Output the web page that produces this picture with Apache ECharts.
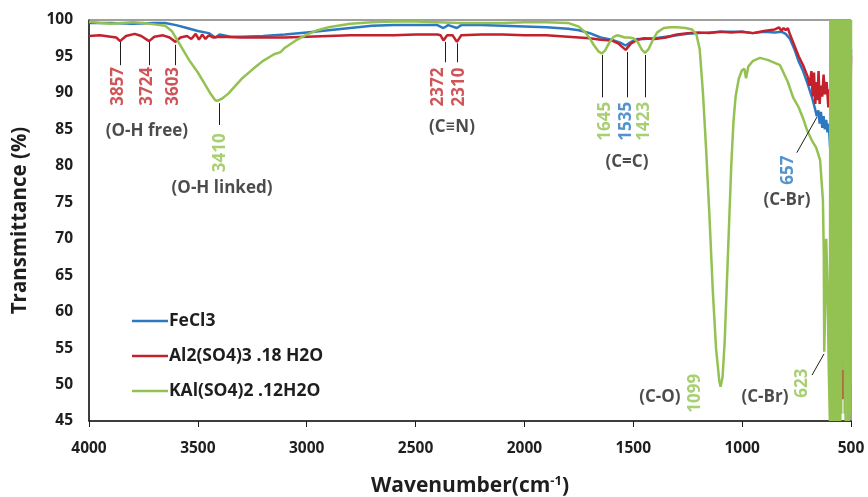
<!DOCTYPE html>
<html>
<head>
<meta charset="utf-8">
<script src="https://cdn.jsdelivr.net/npm/echarts@6/dist/echarts.min.js"></script>
<style>
html,body{margin:0;padding:0;background:#fff;}
#chart{width:868px;height:497px;}
</style>
</head>
<body>
<div id="chart"></div>
<script>
// ---- Data (wavenumber cm-1, transmittance %) ----
const seriesNames = ['FeCl3', 'Al2(SO4)3 .18 H2O', 'KAl(SO4)2 .12H2O'];

const feCl3Data = [
  [4000,99.6],[3900,99.6],[3800,99.5],[3700,99.6],[3650,99.6],[3600,99.3],[3550,98.9],[3500,98.5],
  [3450,98.2],[3420,97.6],[3400,98.0],[3350,97.7],[3300,97.7],[3200,97.8],[3100,98.0],[3000,98.3],
  [2900,98.6],[2800,98.9],[2700,99.2],[2600,99.3],[2500,99.3],[2400,99.3],[2372,98.9],[2350,99.3],
  [2310,98.9],[2290,99.3],[2200,99.3],[2100,99.2],[2000,99.1],[1900,99.0],[1800,98.8],[1750,98.6],
  [1700,98.2],[1650,97.6],[1600,97.3],[1560,96.9],[1535,96.5],[1510,97.0],[1480,97.4],[1450,97.4],
  [1400,97.5],[1350,97.7],[1300,97.9],[1250,98.1],[1200,98.2],[1100,98.4],[1000,98.4],[950,98.2],
  [900,98.4],[850,98.3],[820,98.4],[800,98.1],[780,97.4],[760,96.0],[740,94.3],[720,93.0],
  [700,91.3],[680,89.5],[665,87.8],[657,86.8],[650,87.6],[644,85.8],[638,87.4],[632,85.2],
  [626,86.8],[620,85.0],[614,86.3],[608,84.6],[602,85.8],[596,82.5],[592,88.0],[589,60.0],
  [586,93.0],[583,55.0],[580,97.0],[577,70.0],[574,99.0],[570,62.0],[566,98.0],[562,75.0],
  [558,99.0],[554,58.0],[550,97.0],[545,80.0],[540,99.5],[535,66.0],[530,98.0],[525,72.0],
  [520,99.0],[515,64.0],[510,97.0],[505,85.0],[500,96.0]
];

const al2Data = [
  [4000,97.8],[3950,97.9],[3900,97.7],[3875,97.6],[3857,97.1],[3830,97.8],[3790,98.1],[3760,97.8],
  [3724,97.1],[3700,97.7],[3660,97.9],[3630,97.6],[3603,97.0],[3580,97.6],[3550,97.8],[3530,97.4],
  [3510,98.1],[3495,97.3],[3480,98.0],[3465,97.4],[3450,97.9],[3430,97.6],[3400,97.7],[3300,97.6],
  [3200,97.6],[3100,97.6],[3000,97.7],[2900,97.8],[2800,97.9],[2700,97.9],[2600,97.9],[2500,98.0],
  [2400,98.0],[2385,97.9],[2372,97.2],[2355,97.9],[2330,97.9],[2310,97.0],[2290,97.9],[2200,98.0],
  [2100,98.0],[2000,97.9],[1900,97.9],[1800,97.7],[1700,97.5],[1650,97.3],[1600,97.2],[1570,96.8],
  [1535,95.9],[1510,96.8],[1480,97.3],[1450,97.5],[1400,97.4],[1350,97.6],[1300,98.0],[1250,98.2],
  [1200,98.3],[1150,98.2],[1100,98.4],[1050,98.3],[1000,98.4],[950,98.2],[900,98.5],[850,98.7],
  [830,99.0],[820,98.5],[810,98.9],[800,98.6],[790,98.9],[780,98.0],[760,96.5],[740,95.0],
  [720,93.8],[700,92.3],[690,91.0],[682,93.0],[676,89.5],[670,92.8],[664,88.5],[659,91.5],
  [654,89.0],[649,93.0],[644,88.5],[639,91.0],[632,89.5],[626,92.5],[620,89.8],[612,91.5],
  [604,88.0],[598,90.5],[592,86.0],[588,92.0],[584,75.0],[580,95.0],[575,68.0],[570,98.0],
  [565,80.0],[560,99.0],[555,70.0],[550,98.0],[545,62.0],[540,99.0],[537,48.0],[533,99.5],
  [528,60.0],[524,99.0],[519,52.0],[515,99.5],[511,70.0],[506,99.0],[502,90.0],[500,95.0]
];

const kalData = [
  [4000,99.8],[3950,99.6],[3900,99.5],[3850,99.6],[3800,99.7],[3750,99.6],[3700,99.4],[3650,99.2],
  [3620,98.5],[3600,97.5],[3570,96.0],[3540,94.5],[3500,92.8],[3470,91.3],[3440,89.8],[3420,89.0],
  [3410,88.9],[3390,89.2],[3360,89.9],[3330,90.9],[3300,91.9],[3250,93.2],[3200,94.4],[3150,95.3],
  [3120,95.6],[3100,96.2],[3050,97.2],[3000,98.0],[2950,98.6],[2900,99.0],[2800,99.5],[2700,99.7],
  [2600,99.8],[2500,99.8],[2400,99.7],[2300,99.6],[2200,99.6],[2100,99.6],[2000,99.7],[1900,99.7],
  [1800,99.6],[1750,99.1],[1720,98.3],[1700,97.5],[1680,96.5],[1660,95.7],[1645,95.4],[1630,95.8],
  [1610,96.9],[1590,97.7],[1575,97.9],[1560,97.8],[1540,97.6],[1520,97.6],[1500,97.5],[1480,97.0],
  [1460,95.9],[1446,95.5],[1430,96.0],[1410,97.3],[1390,98.3],[1360,98.9],[1330,99.0],[1300,99.0],
  [1260,98.9],[1230,98.7],[1210,98.0],[1195,96.0],[1180,90.0],[1165,82.0],[1150,73.0],[1135,63.0],
  [1120,55.0],[1105,50.5],[1099,49.7],[1090,51.0],[1080,56.0],[1070,64.0],[1060,72.0],[1050,80.0],
  [1040,86.0],[1030,89.5],[1015,92.0],[1001,93.1],[990,93.3],[982,92.0],[972,93.6],[950,94.4],
  [918,94.8],[880,94.5],[826,93.8],[790,91.5],[766,89.4],[740,88.0],[720,86.5],[702,84.9],
  [680,83.5],[660,82.5],[642,80.8],[629,75.3],[625,68.0],[623,54.5],[619,60.0],[614,70.0],
  [608,64.0],[602,52.0],[597,45.0],[595,100],[593,45.0],[591,100],[589,45.0],[587,100],
  [585,45.0],[583,100],[581,45.0],[579,100],[577,45.0],[575,100],[573,45.0],[571,100],
  [569,45.0],[567,100],[565,45.0],[563,100],[561,45.0],[559,100],[557,45.0],[555,100],
  [553,45.0],[551,100],[549,45.0],[547,100],[545,46.0],[543,100],[541,55.0],[539,100],
  [537,70.0],[535,100],[533,52.0],[531,100],[529,46.0],[527,100],[525,45.0],[523,100],
  [521,72.0],[519,100],[517,60.0],[515,100],[513,45.0],[511,100],[509,45.0],[507,100],
  [505,46.0],[503,100],[501,50.0],[500,100]
];

const xTicks = [4000, 3500, 3000, 2500, 2000, 1500, 1000, 500];
const yTicks = [45, 50, 55, 60, 65, 70, 75, 80, 85, 90, 95, 100];

// peak number labels
const peakText   = ['3857','3724','3603','3410','2372','2310','1645','1535','1423','657','1099','623'];
const peakWn     = [3866, 3733, 3612, 3397, 2397, 2300, 1627, 1534, 1451, 789, 1217, 725];
const peakT      = [90.9, 90.9, 90.9, 81.8, 90.8, 90.8, 86.1, 86.1, 86.1, 79.4, 48.8, 50.2];
const peakColour = ['r','r','r','g','r','r','g','b','g','b','g','g'];

// group labels
const groupText = ['(O-H free)','(O-H linked)','(C\u2261N)','(C=C)','(C-Br)','(C-O)','(C-Br)'];
const groupWn   = [3734, 3389, 2333, 1529, 794, 1378, 895];
const groupT    = [84.8, 77.0, 85.3, 80.5, 75.3, 48.3, 48.3];

// connector segments [wn1, T1, wn2, T2]
const connectors = [
  [3857,97.0,3857,93.8],[3724,97.0,3724,93.8],[3603,96.6,3603,93.8],
  [3401,88.6,3401,85.6],
  [2365,97.0,2365,94.2],[2310,96.8,2310,94.2],
  [1644,95.2,1644,89.4],[1529,95.6,1529,89.4],[1446,95.2,1446,89.4],
  [749,81.8,656,86.7],[679,51.3,624,54.2]
];

// ---- Styling ----
const COL = { b:'#2c79c1', r:'#c3212c', g:'#93c152' };
const LBL = { b:'#2a78c2', r:'#c32a30', g:'#93c353' };
const FONT = '"Open Sans", Lato, sans-serif';
const INK = '#1e1e1e';

const chart = echarts.init(document.getElementById('chart'), null, {renderer:'canvas'});

function lineSeries(name, data, colour, extra) {
  return Object.assign({
    name, type:'line', data, showSymbol:false, symbol:'none',
    lineStyle:{width:2.5, color:colour}, itemStyle:{color:colour},
    clip:true, silent:true, z:2
  }, extra || {});
}

const option = {
  animation:false,
  backgroundColor:'#ffffff',
  grid:{left:89, right:17, top:20, bottom:76, containLabel:false, outerBoundsMode:'none',
        show:true, borderColor:'#404040', borderWidth:1, backgroundColor:'transparent'},
  legend:{
    data:seriesNames, orient:'vertical', left:127, top:307,
    itemWidth:36, itemHeight:14, itemGap:17,
    icon:'path://M0,6 L36,6 L36,8.6 L0,8.6 Z',
    textStyle:{fontFamily:FONT, fontWeight:'bold', fontSize:17.5, color:INK, padding:[0,0,0,-4]}
  },
  xAxis:{
    type:'value', inverse:true, min:500, max:4000, interval:500,
    axisLine:{show:true, lineStyle:{color:INK, width:1.5}},
    axisTick:{show:true, inside:false, length:6, lineStyle:{color:INK}},
    axisLabel:{fontFamily:FONT, fontWeight:'bold', fontSize:15.5, color:INK, margin:20,
      formatter:v => xTicks.includes(v) ? String(v) : ''},
    splitLine:{show:false},
    name:'{a|Wavenumber(cm}{s|-1}{a|)}', nameLocation:'middle', nameGap:54,
    nameTextStyle:{rich:{
      a:{fontFamily:FONT, fontWeight:'bold', fontSize:21, color:INK},
      s:{fontFamily:FONT, fontWeight:'bold', fontSize:13, color:INK, verticalAlign:'top', padding:[0,0,9,0]}
    }}
  },
  yAxis:{
    type:'value', min:45, max:100, interval:5,
    axisLine:{show:true, lineStyle:{color:INK, width:1.5}},
    axisTick:{show:false},
    axisLabel:{fontFamily:FONT, fontWeight:'bold', fontSize:15.5, color:INK, margin:16,
      formatter:v => yTicks.includes(v) ? String(v) : ''},
    splitLine:{show:false},
    name:'Transmittance (%)', nameLocation:'middle', nameGap:58, nameRotate:90,
    nameTextStyle:{fontFamily:FONT, fontWeight:'bold', fontSize:20.5, color:INK}
  },
  series:[
    lineSeries(seriesNames[0], feCl3Data, COL.b),
    lineSeries(seriesNames[1], al2Data, COL.r),
    lineSeries(seriesNames[2], kalData, COL.g, {
      markLine:{
        silent:true, symbol:['none','none'], label:{show:false},
        lineStyle:{color:INK, width:1, type:'solid'},
        data: connectors.map(c => [{coord:[c[0],c[1]]},{coord:[c[2],c[3]]}])
      }
    }),
    {
      type:'scatter', silent:true, symbolSize:0, z:5,
      data: peakText.map((t,i) => ({
        value:[peakWn[i], peakT[i]],
        label:{show:true, formatter:t, rotate:90, position:'inside', color:LBL[peakColour[i]],
          fontFamily:FONT, fontWeight:'bold', fontSize:17}
      }))
    },
    {
      type:'scatter', silent:true, symbolSize:0, z:5,
      data: groupText.map((t,i) => ({
        value:[groupWn[i], groupT[i]],
        label:{show:true, formatter:t, position:'inside', color:INK,
          fontFamily:FONT, fontWeight:'bold', fontSize:17}
      }))
    }
  ]
};
chart.setOption(option);
</script>
</body>
</html>
